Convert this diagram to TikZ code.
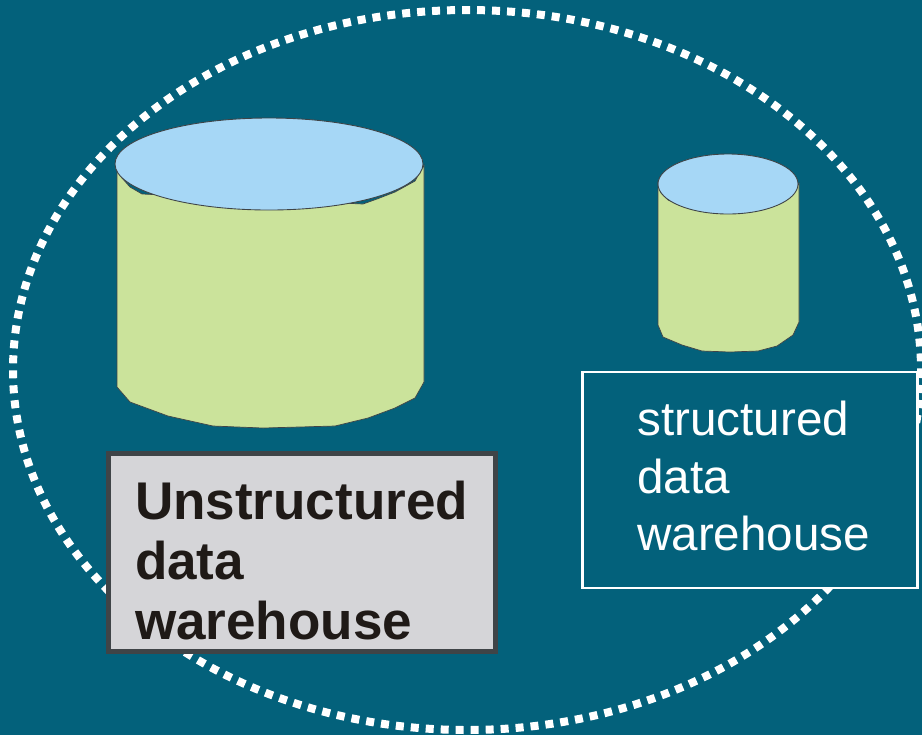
\documentclass[tikz,border=0pt]{standalone}
\usepackage{fontspec}
\setmainfont{Liberation Sans}
\definecolor{bgblue}{HTML}{03617B}
\definecolor{sidegreen}{HTML}{CBE39B}
\definecolor{topblue}{HTML}{A6D7F6}
\definecolor{boxgrey}{HTML}{D5D5D8}
\definecolor{boxline}{HTML}{3F4447}
\definecolor{inkblack}{HTML}{1F1A17}

\begin{document}
\begin{tikzpicture}[x=0.02cm,y=-0.02cm]
	\tikzstyle{side}=[fill=sidegreen,draw=boxline,line width=0.4pt]
	\tikzstyle{lid}=[fill=topblue,draw=boxline,line width=0.5pt]
	\tikzstyle{ring}=[draw=white,line width=0.16cm,dash pattern=on 0.16cm off 0.14cm]
	\tikzstyle{unstructured box}=[rectangle,draw=boxline,fill=boxgrey,line width=0.1cm,minimum width=7.7cm,minimum height=3.96cm,inner xsep=0.53cm,text width=6.68cm,align=left,text=inkblack,font=\fontsize{30.2}{34.2}\selectfont\bfseries]
	\tikzstyle{structured box}=[rectangle,draw=white,fill=bgblue,line width=0.05cm,minimum width=6.71cm,minimum height=4.32cm,inner xsep=1.1cm,text width=4.51cm,align=left,text=white,font=\fontsize{27.1}{32.8}\selectfont]
	
	% Background and margins
	\fill[bgblue] (0,0) rectangle (922,735);
	\useasboundingbox (0,0) rectangle (922,735);
	
	% Draw the dotted ring
	\path[ring] (467,370) ellipse [x radius=454,y radius=360];
	
	% Draw the big cylinder
	\path[side] (117,165) -- (117,387) -- (130,402) -- (168,416) -- (213,426) -- (263,428) -- (335,426) -- (368,418) -- (395,408) -- (415,398) -- (424,382) -- (424,165) -- (415,181) -- (395,192) -- (377,199) -- (363,204) -- (142,194) -- (130,187) -- (122,178) -- cycle;
	\path[lid] (269,164) ellipse [x radius=154,y radius=46];
	
	% Draw the small cylinder
	\path[side] (658,183) -- (658,325) -- (663,337) -- (682,345) -- (702,351) -- (730,352) -- (758,351) -- (777,346) -- (793,335) -- (799,322) -- (799,183) -- (790,197) -- (775,205) -- (680,205) -- (668,200) -- (661,193) -- cycle;
	\path[lid] (728,184) ellipse [x radius=70,y radius=30];
	
	% Annotate the warehouses
	\node[unstructured box] (Unstructured) at (302,552.5) {\rule{0pt}{31pt}Unstructured\\data\\warehouse};
	\node[structured box] (Structured) at (750,480) {structured\\data\\warehouse\par\vspace*{0.16cm}};
\end{tikzpicture}
\end{document}
